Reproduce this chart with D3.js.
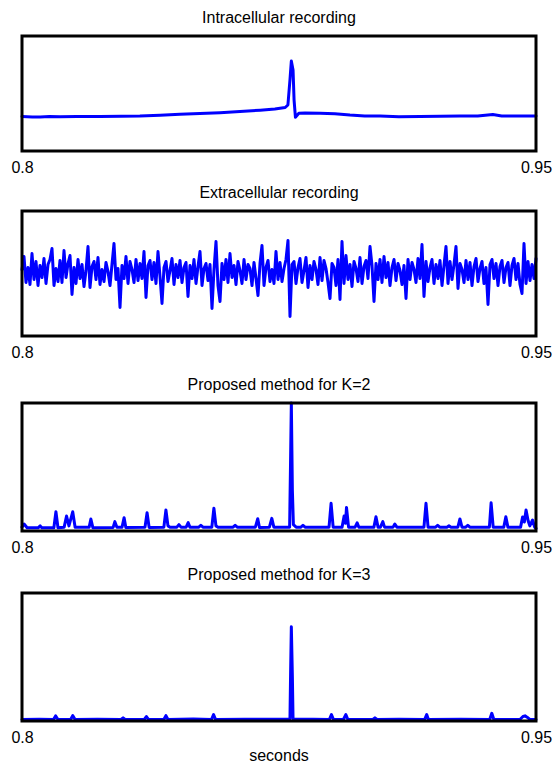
<!DOCTYPE html>
<html>
<head>
<meta charset="utf-8">
<script src="https://cdn.jsdelivr.net/npm/d3@7"></script>
<style>
body { margin: 0; background: #fff; }
svg { display: block; font-family: "Liberation Sans", Arial, Helvetica, sans-serif; }
</style>
</head>
<body>
<svg id="chart" width="556" height="766"></svg>
<script>
// time window shown in every panel (seconds)
var timeRange = [0.8, 0.95];
var tickLabels = [0.8, 0.95];
var xLabel = 'seconds';

var titles = [
	'Intracellular recording',
	'Extracellular recording',
	'Proposed method for K=2',
	'Proposed method for K=3'
];

// intracellular recording (mV)
var intraTime = [0.8000, 0.8030, 0.8053, 0.8080, 0.8111, 0.8160, 0.8228, 0.8290, 0.8344, 0.8403,
	0.8461, 0.8519, 0.8578, 0.8636, 0.8695, 0.8738, 0.8768, 0.8776, 0.8782, 0.8786,
	0.8791, 0.8794, 0.8798, 0.8808, 0.8826, 0.8870, 0.8913, 0.8957, 0.9000, 0.9045,
	0.9100, 0.9161, 0.9220, 0.9278, 0.9330, 0.9374, 0.9400, 0.9440, 0.9500];
var intraValue = [-64.0, -64.4, -64.5, -64.0, -64.3, -64.0, -64.1, -63.8, -63.5, -62.6,
	-61.6, -60.9, -60.0, -58.8, -57.4, -56.2, -54.6, -52.0, -25.9, -6.1,
	-15.5, -46.8, -64.8, -60.7, -60.3, -60.5, -61.2, -62.5, -63.4, -63.5,
	-64.2, -64.0, -63.7, -63.5, -63.4, -61.9, -63.5, -63.6, -63.5];

// extracellular recording, evenly sampled over the window
var extraValue = [4, 17, -9, 6, -11, 20, -6, 12, -12, 8,
	-4, 15, -10, 9, 14, 25, -12, 5, -8, 13,
	-9, 23, -4, 10, 18, -21, 6, -10, 14, -5,
	9, -13, 3, 27, -14, 7, 12, -6, 16, -11,
	4, -8, 11, 2, -12, 9, 30, -6, 5, -34,
	8, -5, 17, -10, 12, 4, -9, 14, -7, 10,
	-5, 22, -24, 8, 13, -6, 11, -10, 22, -3,
	-30, 6, 12, -8, 3, 15, -11, 9, -4, 13,
	-9, 6, 11, -23, 8, -5, 14, -10, 7, 22,
	-12, 5, 10, -7, 9, -35, 4, 32, -12, -28,
	10, -6, 14, -9, 20, -4, 8, -11, 12, 3,
	-10, 14, -6, 9, 5, -12, 11, -5, -22, 10,
	28, -12, 6, 13, -8, 4, -10, 22, -6, 11,
	-8, 5, 14, 33, -43, 9, 12, -10, 6, 15,
	-9, 3, 16, -14, 8, -6, 12, 4, -11, 16,
	-7, 13, 5, -9, -25, 10, 6, -12, 14, -26,
	32, -10, 18, -6, 9, -13, 12, 5, -8, 16,
	-10, 7, 13, -5, 27, 8, -28, 10, -6, 14,
	-9, 17, -4, 11, -12, 6, 14, -7, 10, 3,
	-11, 8, -25, 14, -6, 11, 4, -9, 15, -5,
	29, -23, 12, -8, 6, 14, -10, 9, -5, 13,
	-12, 8, 27, -10, 12, -6, 9, 27, -15, 10,
	4, -9, 13, -6, 11, -12, 7, 15, -8, 5,
	12, -10, 6, -31, 9, 14, -5, 10, -12, 7,
	13, -9, 6, 11, -12, 8, 15, -6, 10, -11,
	-20, 30, -10, 12, -7, 9, -5, 15];

// detector output, K=2 (normalised)
var k2Time = [0.8000, 0.8006, 0.8015, 0.8047, 0.8053, 0.8058, 0.8093, 0.8099, 0.8105, 0.8123,
	0.8130, 0.8137, 0.8148, 0.8155, 0.8196, 0.8201, 0.8207, 0.8266, 0.8271, 0.8277,
	0.8292, 0.8298, 0.8303, 0.8359, 0.8365, 0.8371, 0.8414, 0.8420, 0.8426, 0.8432,
	0.8452, 0.8458, 0.8464, 0.8479, 0.8485, 0.8490, 0.8516, 0.8522, 0.8528, 0.8554,
	0.8560, 0.8566, 0.8572, 0.8616, 0.8622, 0.8628, 0.8681, 0.8688, 0.8693, 0.8722,
	0.8729, 0.8735, 0.8781, 0.87835, 0.8786, 0.8789, 0.8792, 0.8800, 0.8814, 0.8820,
	0.8826, 0.8896, 0.8902, 0.8908, 0.8934, 0.8940, 0.8944, 0.8947, 0.8953, 0.8972,
	0.8978, 0.8983, 0.9027, 0.9033, 0.9039, 0.9046, 0.9053, 0.9058, 0.9083, 0.9088,
	0.9094, 0.9173, 0.9179, 0.9185, 0.9207, 0.9213, 0.9219, 0.9240, 0.9246, 0.9252,
	0.9272, 0.9278, 0.9284, 0.9295, 0.9301, 0.9307, 0.9364, 0.9369, 0.9375, 0.9406,
	0.9412, 0.9418, 0.9455, 0.9461, 0.9466, 0.9471, 0.9477, 0.9482, 0.9490, 0.9496,
	0.9500];
var k2Value = [0.030, 0.055, 0.025, 0.025, 0.040, 0.025, 0.025, 0.150, 0.025, 0.030,
	0.117, 0.040, 0.150, 0.030, 0.030, 0.094, 0.025, 0.028, 0.073, 0.030,
	0.030, 0.104, 0.028, 0.030, 0.143, 0.028, 0.030, 0.164, 0.040, 0.030,
	0.030, 0.050, 0.030, 0.030, 0.065, 0.030, 0.030, 0.045, 0.030, 0.030,
	0.178, 0.040, 0.030, 0.030, 0.045, 0.030, 0.030, 0.096, 0.028, 0.030,
	0.099, 0.030, 0.030, 0.500, 1.000, 0.320, 0.050, 0.030, 0.030, 0.045,
	0.030, 0.030, 0.216, 0.030, 0.030, 0.117, 0.060, 0.184, 0.030, 0.030,
	0.063, 0.030, 0.030, 0.112, 0.030, 0.030, 0.073, 0.030, 0.030, 0.055,
	0.030, 0.030, 0.216, 0.030, 0.030, 0.045, 0.030, 0.030, 0.040, 0.030,
	0.030, 0.094, 0.030, 0.030, 0.045, 0.030, 0.030, 0.220, 0.030, 0.030,
	0.112, 0.030, 0.030, 0.110, 0.070, 0.164, 0.080, 0.040, 0.086, 0.030,
	0.020];

// detector output, K=3 (normalised)
var k3Time = [0.8000, 0.8050, 0.8092, 0.8098, 0.8105, 0.8142, 0.8148, 0.8155, 0.8220, 0.8289,
	0.8295, 0.8301, 0.8357, 0.8363, 0.8369, 0.8414, 0.8420, 0.8426, 0.8500, 0.8553,
	0.8559, 0.8565, 0.8650, 0.8782, 0.8784, 0.8786, 0.8789, 0.8791, 0.8850, 0.8897,
	0.8903, 0.8909, 0.8938, 0.8945, 0.8951, 0.9024, 0.9030, 0.9036, 0.9100, 0.9175,
	0.9181, 0.9186, 0.9280, 0.9365, 0.9371, 0.9377, 0.9453, 0.9462, 0.9468, 0.9474,
	0.9482, 0.9500];
var k3Value = [0.012, 0.014, 0.012, 0.040, 0.012, 0.012, 0.042, 0.012, 0.014, 0.012,
	0.025, 0.012, 0.012, 0.035, 0.012, 0.012, 0.042, 0.012, 0.015, 0.012,
	0.050, 0.012, 0.014, 0.015, 0.400, 0.737, 0.350, 0.015, 0.014, 0.012,
	0.050, 0.012, 0.012, 0.050, 0.012, 0.012, 0.025, 0.012, 0.014, 0.012,
	0.050, 0.012, 0.014, 0.012, 0.060, 0.012, 0.012, 0.035, 0.040, 0.030,
	0.012, 0.012];

// layout of the four stacked panels
var boxLeft = 22, boxRight = 536;
var panels = [
	{top: 36, bottom: 151, yDomain: [-100, 20]},
	{top: 211, bottom: 336, yDomain: [-62.5, 62.5]},
	{top: 403, bottom: 531, yDomain: [0, 1]},
	{top: 593, bottom: 721, yDomain: [0, 1]}
];

var extraStep = (timeRange[1] - timeRange[0]) / (extraValue.length - 1);
var series = [
	intraTime.map(function (t, i) { return [t, intraValue[i]]; }),
	extraValue.map(function (v, i) { return [timeRange[0] + i * extraStep, v]; }),
	k2Time.map(function (t, i) { return [t, k2Value[i]]; }),
	k3Time.map(function (t, i) { return [t, k3Value[i]]; })
];

var svg = d3.select('#chart');
var x = d3.scaleLinear().domain(timeRange).range([boxLeft, boxRight]);

panels.forEach(function (p, k) {
	var y = d3.scaleLinear().domain(p.yDomain).range([p.bottom, p.top]);
	var g = svg.append('g');

	var line = d3.line()
		.x(function (d) { return x(d[0]); })
		.y(function (d) { return y(d[1]); });

	g.append('path')
		.datum(series[k])
		.attr('d', line)
		.attr('fill', 'none')
		.attr('stroke', '#0000ff')
		.attr('stroke-width', 3)
		.attr('stroke-linejoin', 'round')
		.attr('stroke-linecap', 'round');

	// black frame round the plot area
	g.append('rect')
		.attr('x', boxLeft)
		.attr('y', p.top)
		.attr('width', boxRight - boxLeft)
		.attr('height', p.bottom - p.top)
		.attr('fill', 'none')
		.attr('stroke', '#000')
		.attr('stroke-width', 3);

	var axis = d3.axisBottom(x)
		.tickValues(tickLabels)
		.tickSize(0)
		.tickPadding(0)
		.tickFormat(function (d) { return String(d); });

	var ax = g.append('g')
		.attr('transform', 'translate(0,' + (p.bottom + 22) + ')')
		.call(axis);
	ax.select('.domain').remove();
	ax.selectAll('text')
		.attr('dy', 0)
		.attr('font-size', 16)
		.attr('font-family', '"Liberation Sans", Arial, sans-serif')
		.attr('fill', '#000');

	g.append('text')
		.attr('x', (boxLeft + boxRight) / 2)
		.attr('y', p.top - 13)
		.attr('text-anchor', 'middle')
		.attr('font-size', 16)
		.text(titles[k]);
});

svg.append('text')
	.attr('x', (boxLeft + boxRight) / 2)
	.attr('y', 761)
	.attr('text-anchor', 'middle')
	.attr('font-size', 16)
	.text(xLabel);
</script>
</body>
</html>
